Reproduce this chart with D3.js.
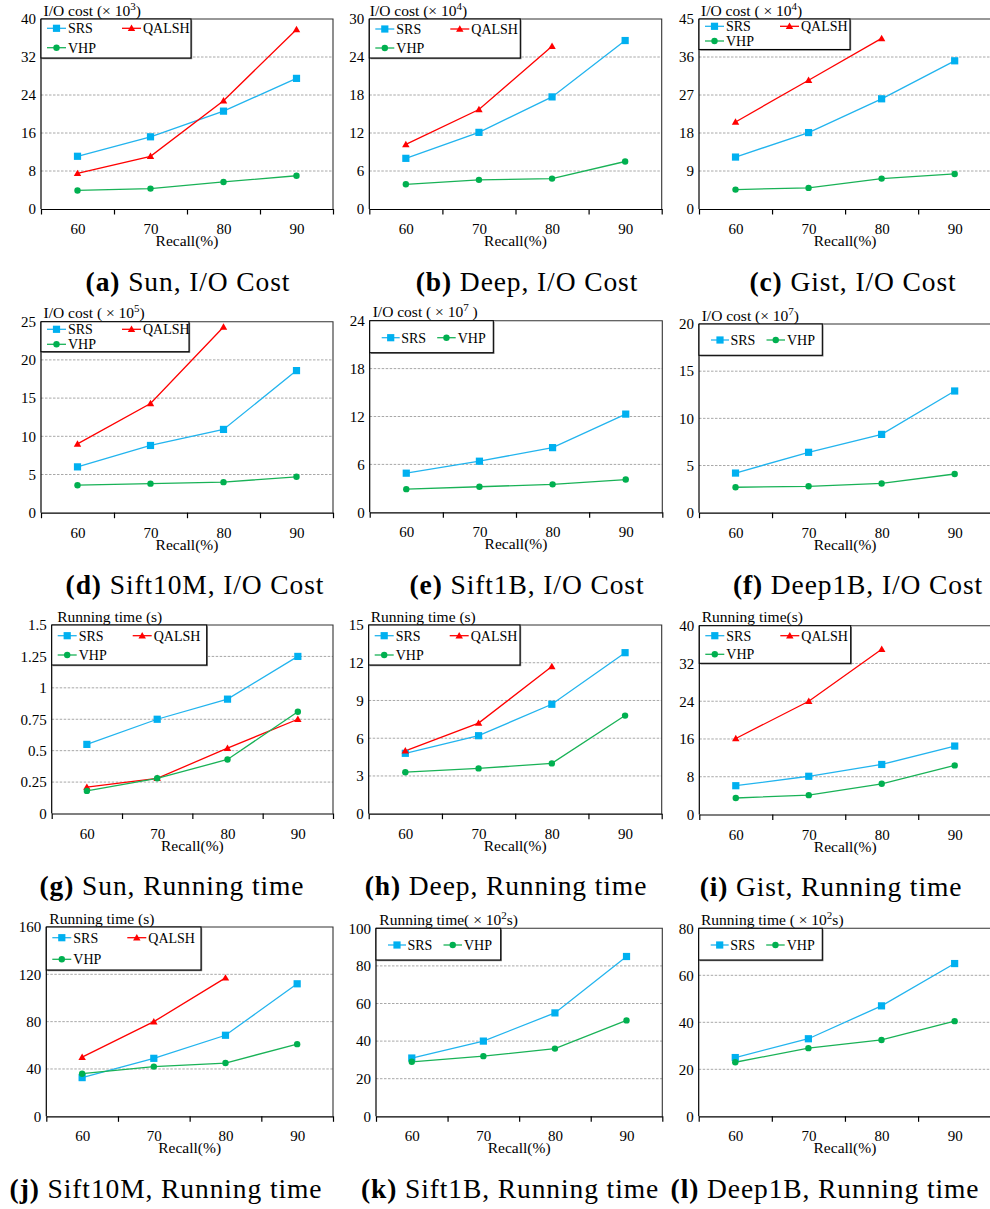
<!DOCTYPE html>
<html>
<head>
<meta charset="utf-8">
<script src="https://cdn.jsdelivr.net/npm/d3@7"></script>
<style>
  body { margin: 0; background: #fff; }
  svg { display: block; }
  svg text { font-family: 'Liberation Serif'; fill: #000; }
</style>
</head>
<body>
<svg id="fig" width="990" height="1209"></svg>
<script>
// ---------------------------------------------------------------- data
const recall = [60, 70, 80, 90];
const recallEdges = [55, 65, 75, 85, 95];

// I/O cost
const sunIoSRS = [11.1, 15.2, 20.6, 27.5];
const sunIoQALSH = [7.5, 11.1, 22.8, 37.8];
const sunIoVHP = [3.9, 4.3, 5.7, 7.0];
const sunIoTicks = [0, 8, 16, 24, 32, 40];

const deepIoSRS = [8.0, 12.1, 17.7, 26.6];
const deepIoQALSH = [10.2, 15.7, 25.7];
const deepIoVHP = [3.9, 4.6, 4.8, 7.5];
const deepIoTicks = [0, 6, 12, 18, 24, 30];

const gistIoSRS = [12.3, 18.1, 26.1, 35.1];
const gistIoQALSH = [20.6, 30.5, 40.4];
const gistIoVHP = [4.6, 5.0, 7.2, 8.3];
const gistIoTicks = [0, 9, 18, 27, 36, 45];

const sift10mIoSRS = [6.0, 8.8, 10.9, 18.6];
const sift10mIoQALSH = [9.0, 14.3, 24.3];
const sift10mIoVHP = [3.6, 3.8, 4.0, 4.7];
const sift10mIoTicks = [0, 5, 10, 15, 20, 25];

const sift1bIoSRS = [4.9, 6.4, 8.1, 12.3];
const sift1bIoVHP = [2.9, 3.2, 3.5, 4.1];
const sift1bIoTicks = [0, 6, 12, 18, 24];

const deep1bIoSRS = [4.2, 6.4, 8.3, 12.9];
const deep1bIoVHP = [2.7, 2.8, 3.1, 4.1];
const deep1bIoTicks = [0, 5, 10, 15, 20];

// Running time
const sunRtSRS = [0.55, 0.75, 0.91, 1.25];
const sunRtQALSH = [0.21, 0.28, 0.52, 0.75];
const sunRtVHP = [0.18, 0.28, 0.43, 0.81];
const sunRtTicks = [0, 0.25, 0.5, 0.75, 1, 1.25, 1.5];

const deepRtSRS = [4.8, 6.2, 8.7, 12.8];
const deepRtQALSH = [5.0, 7.2, 11.7];
const deepRtVHP = [3.3, 3.6, 4.0, 7.8];
const deepRtTicks = [0, 3, 6, 9, 12, 15];

const gistRtSRS = [6.1, 8.1, 10.6, 14.5];
const gistRtQALSH = [16.1, 24.0, 35.0];
const gistRtVHP = [3.5, 4.1, 6.5, 10.4];
const gistRtTicks = [0, 8, 16, 24, 32, 40];

const sift10mRtSRS = [32.7, 49, 68.5, 112];
const sift10mRtQALSH = [50, 80, 117];
const sift10mRtVHP = [36, 42, 45, 61];
const sift10mRtTicks = [0, 40, 80, 120, 160];

const sift1bRtSRS = [31, 40, 55, 85];
const sift1bRtVHP = [29, 32, 36, 51];
const sift1bRtTicks = [0, 20, 40, 60, 80, 100];

const deep1bRtSRS = [25, 33, 47, 65];
const deep1bRtVHP = [23, 29, 32.5, 40.5];
const deep1bRtTicks = [0, 20, 40, 60, 80];

// ---------------------------------------------------------------- series styles
const SERIF = "'Liberation Serif'";
const STYLE = {
  SRS:   { line: "#22b4ee", fill: "#00b0f0", marker: "square" },
  QALSH: { line: "#ff0000", fill: "#ff0000", marker: "triangle" },
  VHP:   { line: "#19b257", fill: "#00b050", marker: "circle" }
};

// ---------------------------------------------------------------- panels
const panels = [
  { tag: "(a)", caption: "Sun, I/O Cost", ticks: sunIoTicks,
    title: ["I/O cost (\u00d7 10", "3", ")"],
    series: [["SRS", sunIoSRS], ["QALSH", sunIoQALSH], ["VHP", sunIoVHP]],
    l: 41, r: 333, t: 19, b: 209, tdx: 2.5, cap: 188,
    leg: { w: 150, h: 39, rows: [9.3, 28.7] } },
  { tag: "(b)", caption: "Deep, I/O Cost", ticks: deepIoTicks,
    title: ["I/O cost (\u00d7 10", "4", ")"],
    series: [["SRS", deepIoSRS], ["QALSH", deepIoQALSH], ["VHP", deepIoVHP]],
    l: 369.3, r: 661.7, t: 19, b: 209, tdx: 0.5, cap: 527,
    leg: { w: 151, h: 39, rows: [10, 29] } },
  { tag: "(c)", caption: "Gist, I/O Cost", ticks: gistIoTicks,
    title: ["I/O cost ( \u00d7 10", "4", ")"],
    series: [["SRS", gistIoSRS], ["QALSH", gistIoQALSH], ["VHP", gistIoVHP]],
    l: 699, r: 991.2, t: 19, b: 209, tdx: 2, cap: 853,
    leg: { w: 151, h: 30.5, rows: [7.3, 22] } },

  { tag: "(d)", caption: "Sift10M, I/O Cost", ticks: sift10mIoTicks,
    title: ["I/O cost ( \u00d7 10", "5", ")"],
    series: [["SRS", sift10mIoSRS], ["QALSH", sift10mIoQALSH], ["VHP", sift10mIoVHP]],
    l: 41, r: 333, t: 321.7, b: 512.7, tdx: 2.5, cap: 195,
    leg: { w: 148, h: 30, rows: [7.6, 22.6] } },
  { tag: "(e)", caption: "Sift1B, I/O Cost", ticks: sift1bIoTicks,
    title: ["I/O cost ( \u00d7 10", "7", " )"],
    series: [["SRS", sift1bIoSRS], ["VHP", sift1bIoVHP]],
    l: 369.7, r: 662.3, t: 320.7, b: 512.3, tdx: 3, cap: 527,
    leg: { w: 123.6, h: 32, rows: [17] } },
  { tag: "(f)", caption: "Deep1B, I/O Cost", ticks: deep1bIoTicks,
    title: ["I/O cost (\u00d7 10", "7", ")"],
    series: [["SRS", deep1bIoSRS], ["VHP", deep1bIoVHP]],
    l: 699, r: 991.2, t: 324, b: 512.7, tdx: 2.7, cap: 858,
    leg: { w: 123.3, h: 31.3, rows: [16] } },

  { tag: "(g)", caption: "Sun, Running time", ticks: sunRtTicks,
    title: ["Running time (s)"],
    series: [["SRS", sunRtSRS], ["QALSH", sunRtQALSH], ["VHP", sunRtVHP]],
    l: 51.7, r: 333, t: 625, b: 813.5, tdx: 5.5, cap: 172,
    leg: { w: 155, h: 40, rows: [10.7, 30] } },
  { tag: "(h)", caption: "Deep, Running time", ticks: deepRtTicks,
    title: ["Running time (s)"],
    series: [["SRS", deepRtSRS], ["QALSH", deepRtQALSH], ["VHP", deepRtVHP]],
    l: 368.7, r: 661.7, t: 625, b: 813.7, tdx: 2, cap: 506,
    leg: { w: 151.3, h: 40, rows: [10.7, 30] } },
  { tag: "(i)", caption: "Gist, Running time", ticks: gistRtTicks,
    title: ["Running time(s)"],
    series: [["SRS", gistRtSRS], ["QALSH", gistRtQALSH], ["VHP", gistRtVHP]],
    l: 699.3, r: 991.2, t: 625.7, b: 814.5, tdx: 2.4, cap: 831,
    leg: { w: 151.4, h: 37.6, rows: [10, 28.6] } },

  { tag: "(j)", caption: "Sift10M, Running time", ticks: sift10mRtTicks,
    title: ["Running time (s)"],
    series: [["SRS", sift10mRtSRS], ["QALSH", sift10mRtQALSH], ["VHP", sift10mRtVHP]],
    l: 46.3, r: 333, t: 927, b: 1116.3, tdx: 3, cap: 166,
    leg: { w: 154.7, h: 43, rows: [10.7, 32.3] } },
  { tag: "(k)", caption: "Sift1B, Running time", ticks: sift1bRtTicks,
    title: ["Running time( \u00d7 10", "2", "s)"],
    series: [["SRS", sift1bRtSRS], ["VHP", sift1bRtVHP]],
    l: 376, r: 662.3, t: 928.3, b: 1116.3, tdx: 3.3, cap: 510,
    leg: { w: 124.7, h: 31.7, rows: [16.7] } },
  { tag: "(l)", caption: "Deep1B, Running time", ticks: deep1bRtTicks,
    title: ["Running time ( \u00d7 10", "2", "s)"],
    series: [["SRS", deep1bRtSRS], ["VHP", deep1bRtVHP]],
    l: 698.7, r: 991.2, t: 928.3, b: 1116.3, tdx: 2.3, cap: 825,
    leg: { w: 123.6, h: 31.7, rows: [16.7] } }
];

const svg = d3.select("#fig");
svg.append("rect").attr("width", 990).attr("height", 1209).attr("fill", "#fff");

function drawMarker(sel, kind, cx, cy) {
  const st = STYLE[kind];
  if (st.marker === "square") {
    sel.append("rect").attr("x", cx - 3.6).attr("y", cy - 3.6)
      .attr("width", 7.2).attr("height", 7.2).attr("fill", st.fill);
  } else if (st.marker === "triangle") {
    sel.append("path")
      .attr("d", d3.symbol(d3.symbolTriangle, 24)())
      .attr("transform", `translate(${cx},${cy + 0.6})`)
      .attr("fill", st.fill);
  } else {
    sel.append("circle").attr("cx", cx).attr("cy", cy).attr("r", 3.2).attr("fill", st.fill);
  }
}

function serifText(sel, size) {
  return sel.style("font-family", SERIF).style("font-size", size + "px").attr("fill", "#000");
}

function drawPanel(p) {
  const g = svg.append("g");
  const yMax = d3.max(p.ticks);
  const x = d3.scaleLinear().domain([55, 95]).range([p.l, p.r]);
  const y = d3.scaleLinear().domain([0, yMax]).range([p.b, p.t]);

  // horizontal grid
  g.append("g").selectAll("line")
    .data(p.ticks.filter(v => v > 0 && v < yMax))
    .join("line")
    .attr("x1", p.l).attr("x2", p.r)
    .attr("y1", d => y(d)).attr("y2", d => y(d))
    .attr("stroke", "#a8a8a8").attr("stroke-width", 1)
    .attr("stroke-dasharray", "2.5,1.5");

  // plot frame (top + right)
  g.append("path")
    .attr("d", `M${p.l},${p.t}H${p.r}V${p.b}`)
    .attr("fill", "none").attr("stroke", "#333").attr("stroke-width", 1.1);

  // y axis labels
  const ya = g.append("g").attr("transform", `translate(${p.l},0)`)
    .call(d3.axisLeft(y).tickValues(p.ticks).tickSize(0).tickPadding(5)
      .tickFormat(d => String(d)));
  ya.select(".domain").remove();
  ya.attr("font-family", null).attr("font-size", null);
  serifText(ya.selectAll("text"), 15);

  // y axis line
  g.append("line").attr("x1", p.l).attr("x2", p.l).attr("y1", p.t).attr("y2", p.b)
    .attr("stroke", "#000").attr("stroke-width", 1.2);

  // x axis: category labels at centers, tick marks at boundaries
  const xl = g.append("g").attr("transform", `translate(0,${p.b})`)
    .call(d3.axisBottom(x).tickValues(recall).tickSize(0).tickPadding(14.5));
  xl.select(".domain").remove();
  xl.attr("font-family", null).attr("font-size", null);
  serifText(xl.selectAll("text"), 15);

  const xt = g.append("g").attr("transform", `translate(0,${p.b})`)
    .call(d3.axisBottom(x).tickValues(recallEdges).tickSize(5.5).tickSizeOuter(0)
      .tickFormat(() => ""));
  xt.selectAll("path,line").attr("stroke", "#000").attr("stroke-width", 1.2);

  // axis titles
  serifText(g.append("text"), 15.5)
    .attr("x", (p.l + p.r) / 2).attr("y", p.b + 37)
    .attr("text-anchor", "middle").text("Recall(%)");

  const tt = serifText(g.append("text"), 15.5).attr("x", p.l + p.tdx).attr("y", p.t - 3.5);
  tt.append("tspan").text(p.title[0]);
  if (p.title.length > 1) {
    tt.append("tspan").attr("dy", -6).style("font-size", "11px").text(p.title[1]);
    tt.append("tspan").attr("dy", 6).text(p.title[2]);
  }

  // series
  const line = d3.line().x((d, i) => x(recall[i])).y(d => y(d));
  p.series.forEach(([name, vals]) => {
    g.append("path").datum(vals).attr("d", line)
      .attr("fill", "none").attr("stroke", STYLE[name].line).attr("stroke-width", 1.3);
  });
  p.series.forEach(([name, vals]) => {
    const mg = g.append("g");
    vals.forEach((v, i) => drawMarker(mg, name, x(recall[i]), y(v)));
  });

  // legend
  const lg = g.append("g").attr("transform", `translate(${p.l},${p.t})`);
  lg.append("rect").attr("x", 1.2).attr("y", 1.2).attr("width", p.leg.w).attr("height", p.leg.h)
    .attr("fill", "#7a7a7a");
  lg.append("rect").attr("x", 0).attr("y", 0).attr("width", p.leg.w).attr("height", p.leg.h)
    .attr("fill", "#fff").attr("stroke", "#000").attr("stroke-width", 1.1);

  let entries;
  if (p.series.length === 3) {
    entries = [
      { name: p.series[0][0], x0: 6, x1: 25, tx: 27, y: p.leg.rows[0] },
      { name: p.series[1][0], x0: 81, x1: 100, tx: 102, y: p.leg.rows[0] },
      { name: p.series[2][0], x0: 6, x1: 25, tx: 27, y: p.leg.rows[1] }
    ];
  } else {
    entries = [
      { name: p.series[0][0], x0: 12, x1: 30, tx: 31.5, y: p.leg.rows[0] },
      { name: p.series[1][0], x0: 67.5, x1: 86, tx: 88, y: p.leg.rows[0] }
    ];
  }
  entries.forEach(e => {
    lg.append("line").attr("x1", e.x0).attr("x2", e.x1).attr("y1", e.y).attr("y2", e.y)
      .attr("stroke", STYLE[e.name].line).attr("stroke-width", 1.3);
    drawMarker(lg, e.name, (e.x0 + e.x1) / 2, e.y);
    serifText(lg.append("text"), 14).attr("x", e.tx).attr("y", e.y).attr("dy", "0.35em")
      .text(e.name);
  });

  // caption
  const ct = serifText(g.append("text"), 27.5).attr("x", p.cap).attr("y", p.b + 81.5)
    .attr("text-anchor", "middle")
    .style("letter-spacing", "0.9px")
    .style("white-space", "pre");
  ct.append("tspan").style("font-weight", "bold").text(p.tag);
  ct.append("tspan").text(" " + p.caption);
}

panels.forEach(drawPanel);
</script>
</body>
</html>
